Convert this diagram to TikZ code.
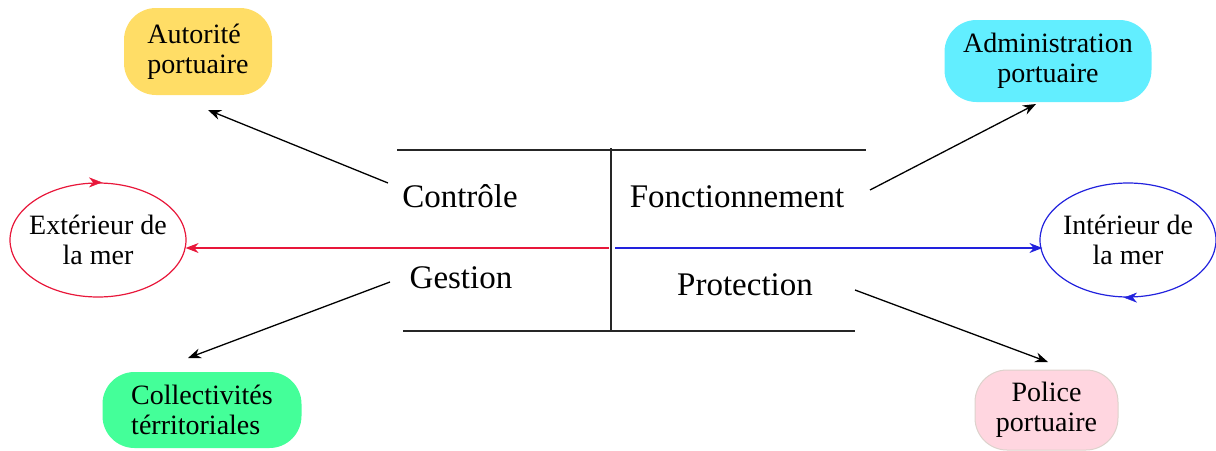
\documentclass[tikz,border=0pt]{standalone}
\usepackage{fontspec}
\setmainfont{Liberation Serif}
\usetikzlibrary{arrows.meta,shapes.geometric}
\definecolor{cyellow}{HTML}{FFDD66}
\definecolor{ccyan}{HTML}{62EEFF}
\definecolor{cgreen}{HTML}{44FF99}
\definecolor{cpink}{HTML}{FFD6E0}
\definecolor{cpinkline}{HTML}{DDD2CC}
\definecolor{cred}{HTML}{E8173A}
\definecolor{cblue}{HTML}{2222DD}
\begin{document}
\begin{tikzpicture}[x=1pt,y=-1pt,
  box/.style={rounded corners=32pt, inner sep=0pt, align=center,
    font=\fontsize{28}{30}\selectfont},
  ring/.style={ellipse, inner sep=0pt, line width=1.2pt,
    minimum width=176pt, minimum height=114pt},
  ringtext/.style={inner sep=0pt, align=center, font=\fontsize{28}{30}\selectfont},
  lbl/.style={inner sep=0pt, font=\fontsize{33}{36}\selectfont},
  frame/.style={line width=1.3pt, draw=black!85},
  arr/.style={line width=1.3pt, -{Stealth[length=13pt,width=10pt]}},
  tip/.style={-{Stealth[length=13pt,width=10pt]}}
]
\useasboundingbox (0,0) rectangle (1216,450);

% boxes
\node[box, fill=cyellow, minimum width=148pt, minimum height=87pt, align=left] (auto) at (198,51.5) {Autorité\\portuaire};
\node[box, fill=ccyan, minimum width=207pt, minimum height=82pt] (admin) at (1048,61) {Administration\\portuaire};
\node[box, fill=cgreen, minimum width=199pt, minimum height=76pt, align=left] (coll) at (202,410) {Collectivités\\térritoriales};
\node[box, fill=cpink, draw=cpinkline, line width=1pt, minimum width=143pt, minimum height=80pt] (police) at (1046.5,410) {Police\\portuaire};

% rings
\node[ring, draw=cred] (ext) at (98,240) {};
\node[ringtext] (extt) at (ext.center) {Extérieur de\\la mer};
\node[ring, draw=cblue] (int) at (1128,240) {};
\node[ringtext] (intt) at (int.center) {Intérieur de\\la mer};
\draw[cred, tip] ([xshift=-4pt]ext.north) -- ([xshift=4pt]ext.north);
\draw[cblue, tip] ([xshift=4pt]int.south) -- ([xshift=-4pt]int.south);

% central frame
\coordinate (tl) at (397,150);
\coordinate (tr) at (866,150);
\coordinate (bl) at (403,331);
\coordinate (br) at (855,331);
\coordinate (vt) at (611,148);
\coordinate (vb) at (611,330);
\draw[frame] (tl) -- (tr);
\draw[frame] (bl) -- (br);
\draw[frame] (vt) -- (vb);

\node[lbl] (ctrl) at (460,196) {Contrôle};
\node[lbl] (fonc) at (737,197) {Fonctionnement};
\node[lbl] (gest) at (461,278) {Gestion};
\node[lbl] (prot) at (745,285) {Protection};

% colored lines
\coordinate (rs) at (609,248);
\coordinate (bs) at (615,248);
\draw[cred, line width=1.2pt, tip] (rs) -- ([xshift=-1pt]rs -| ext.east);
\draw[cblue, line width=1.2pt, tip] (bs) -- ([xshift=3pt]bs -| int.west);

% black arrows
\coordinate (a1s) at (388,183);
\coordinate (a1e) at (208,110);
\coordinate (a2s) at (870,190);
\coordinate (a2e) at (1036,104);
\coordinate (a3s) at (390,282);
\coordinate (a3e) at (188,358);
\coordinate (a4s) at (855,290);
\coordinate (a4e) at (1048,362);
\draw[arr] (a1s) -- (a1e);
\draw[arr] (a2s) -- (a2e);
\draw[arr] (a3s) -- (a3e);
\draw[arr] (a4s) -- (a4e);
\end{tikzpicture}
\end{document}
